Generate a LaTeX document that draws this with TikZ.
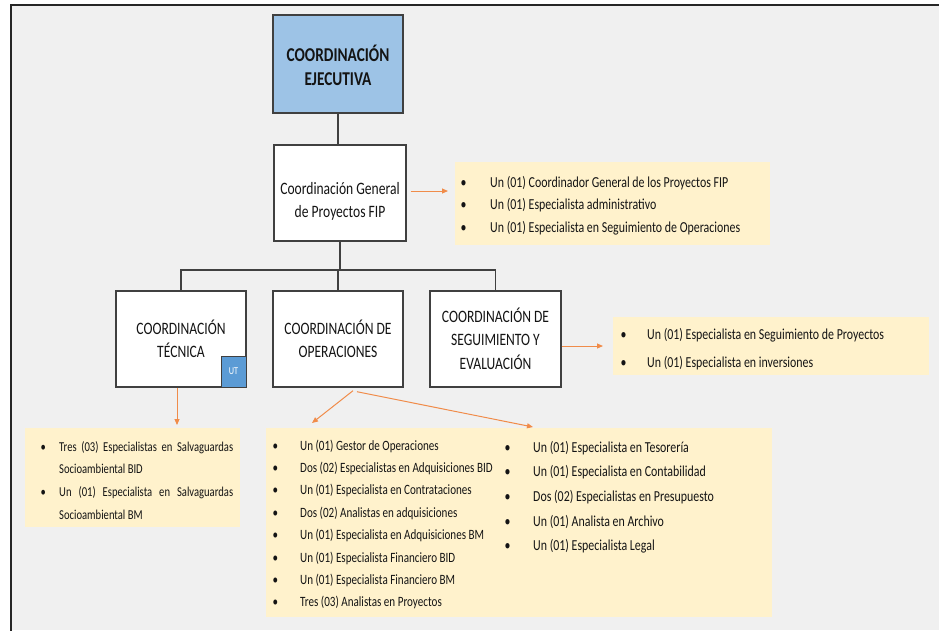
\documentclass[tikz,border=0pt]{standalone}
\usepackage{fontspec}
\setmainfont[FakeStretch=0.78]{Carlito}
\usetikzlibrary{arrows.meta}
\definecolor{bgc}{HTML}{F0F0F0}
\definecolor{notec}{HTML}{FFF2CC}
\definecolor{execc}{HTML}{9DC3E6}
\definecolor{utc}{HTML}{5B9BD5}
\definecolor{edgec}{HTML}{404040}
\definecolor{orng}{HTML}{F08C4A}
\definecolor{ink}{HTML}{141414}
\begin{document}
\begin{tikzpicture}[x=1pt,y=-1pt,
 box/.style={draw=edgec, line width=1.4pt, fill=white, minimum width=130pt, minimum height=96pt, inner sep=0pt},
 lbl/.style={align=center, text=ink, inner sep=0pt, font=\fontsize{17.4}{22.8}\selectfont},
 notebox/.style={fill=notec, draw=none, inner sep=0pt},
 listtxt/.style={anchor=base west, inner sep=0pt, text=ink},
 conn/.style={draw=edgec, line width=1.2pt},
 oarrow/.style={draw=orng, line width=1pt, -{Triangle[length=6pt,width=5pt]}}
]
\useasboundingbox (0,0) rectangle (939,633);
\fill[white] (0,0) rectangle (939,633);
\fill[bgc] (11,5) rectangle (939,630);
\draw[line width=2pt, black!85] (939,5) -- (11,5) -- (11,631);

% note boxes
\node[notebox, minimum width=315pt, minimum height=83pt] (n1) at (612.5,203.5) {};
\node[notebox, minimum width=316pt, minimum height=58pt] (n2) at (771,346) {};
\node[notebox, minimum width=215pt, minimum height=99pt] (n3) at (132.5,477.5) {};
\node[notebox, minimum width=506pt, minimum height=189pt] (n4) at (519,522.5) {};

% main boxes
\node[box, fill=execc, minimum width=130pt, minimum height=98pt] (exec) at (338,64) {};
\node[lbl, font=\fontsize{19.6}{24}\selectfont\bfseries] (exect) at (338,65) {COORDINACIÓN\\EJECUTIVA};
\node[box, minimum width=132pt] (cg) at (340,193) {};
\node[lbl] (cgt) at (340,201) {Coordinación General\\de Proyectos FIP};
\node[box] (tech) at (181,339) {};
\node[lbl] (techt) at (181,339) {COORDINACIÓN\\TÉCNICA};
\node[box] (ops) at (338,339) {};
\node[lbl] (opst) at (338,339) {COORDINACIÓN DE\\OPERACIONES};
\node[box, minimum width=131pt] (seg) at (495.5,339) {};
\node[lbl, font=\fontsize{17.4}{23.5}\selectfont] (segt) at (495.5,338.5) {COORDINACIÓN DE\\SEGUIMIENTO Y\\EVALUACIÓN};
\node[draw=edgec, line width=1pt, fill=utc, minimum width=25pt, minimum height=31pt, inner sep=0pt, text=white, font=\fontsize{10.5}{11}\selectfont] (ut) at (233.5,371.5) {UT};

% connectors
\coordinate (bus) at (339,270);
\draw[conn] (exec.south) -- (exec.south |- cg.north);
\draw[conn] (cg.south) -- (cg.south |- bus);
\draw[conn] (tech.north) |- (bus) -| (seg.north);
\draw[conn] (ops.north) -- (ops.north |- bus);

% orange arrows
\coordinate (a1) at (448,191);
\coordinate (a2) at (603,346);
\coordinate (a3) at (177,425);
\coordinate (a4) at (312,423);
\coordinate (a5) at (533,427);
\draw[oarrow, shorten <=4pt] (cg.east |- a1) -- (a1);
\draw[oarrow] (seg.east |- a2) -- (a2);
\draw[oarrow] (tech.south -| a3) -- (a3);
\draw[oarrow] ([shift={(15pt,-3pt)}]ops.south) -- (a4);
\draw[oarrow] ([shift={(19pt,-4pt)}]ops.south) -- (a5);

% lists
\node[listtxt] (l1) at (460.5,187) {\fontsize{15.25}{22.5}\selectfont\begin{tabular}[t]{@{}p{29.5pt}@{}l@{}}
\textbullet & Un (01) Coordinador General de los Proyectos FIP\\
\textbullet & Un (01) Especialista administrativo\\
\textbullet & Un (01) Especialista en Seguimiento de Operaciones
\end{tabular}};
\node[listtxt] (l2) at (620.5,339.5) {\fontsize{15.25}{28}\selectfont\begin{tabular}[t]{@{}p{26.5pt}@{}l@{}}
\textbullet & Un (01) Especialista en Seguimiento de Proyectos\\
\textbullet & Un (01) Especialista en inversiones
\end{tabular}};
\node[listtxt] (l3) at (40.5,451) {\fontsize{13.6}{22.7}\selectfont\begin{tabular}[t]{@{}p{18.5pt}@{}l@{}}
\textbullet & \makebox[174pt][s]{Tres (03) Especialistas en Salvaguardas}\\
 & Socioambiental BID\\
\textbullet & \makebox[174pt][s]{Un (01) Especialista en Salvaguardas}\\
 & Socioambiental BM
\end{tabular}};
\node[listtxt] (l4) at (272.5,450) {\fontsize{14.2}{22.4}\selectfont\begin{tabular}[t]{@{}p{27.5pt}@{}l@{}}
\textbullet & Un (01) Gestor de Operaciones\\
\textbullet & Dos (02) Especialistas en Adquisiciones BID\\
\textbullet & Un (01) Especialista en Contrataciones\\
\textbullet & Dos (02) Analistas en adquisiciones\\
\textbullet & Un (01) Especialista en Adquisiciones BM\\
\textbullet & Un (01) Especialista Financiero BID\\
\textbullet & Un (01) Especialista Financiero BM\\
\textbullet & Tres (03) Analistas en Proyectos
\end{tabular}};
\node[listtxt] (l5) at (504.5,452) {\fontsize{15.25}{24.7}\selectfont\begin{tabular}[t]{@{}p{28.5pt}@{}l@{}}
\textbullet & Un (01) Especialista en Tesorería\\
\textbullet & Un (01) Especialista en Contabilidad\\
\textbullet & Dos (02) Especialistas en Presupuesto\\
\textbullet & Un (01) Analista en Archivo\\
\textbullet & Un (01) Especialista Legal
\end{tabular}};
\end{tikzpicture}
\end{document}
